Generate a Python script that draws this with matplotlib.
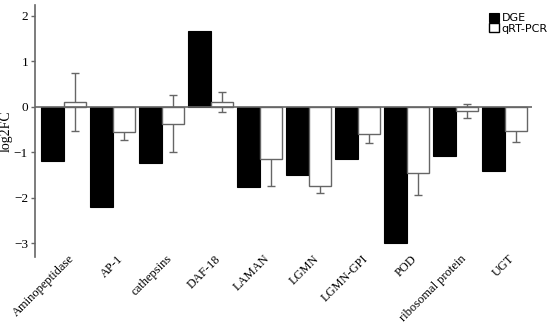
import numpy as np
import matplotlib.pyplot as plt

genes = ['Aminopeptidase', 'AP-1', 'cathepsins', 'DAF-18', 'LAMAN', 'LGMN',
         'LGMN-GPI', 'POD', 'ribosomal protein', 'UGT']
dge = [-1.19, -2.2, -1.24, 1.67, -1.76, -1.5, -1.15, -3.0, -1.07, -1.4]
qpcr = [0.11, -0.55, -0.37, 0.1, -1.15, -1.75, -0.6, -1.46, -0.09, -0.53]
qpcr_err = [0.63, 0.17, 0.62, 0.22, 0.58, 0.14, 0.2, 0.47, 0.15, 0.24]

x = np.arange(len(genes))
w = 0.46
gray = '#666666'

fig = plt.figure(figsize=(5.5, 3.27), dpi=100)
ax = fig.add_axes([0.0636, 0.214, 0.9034, 0.771])

ax.bar(x - w / 2, dge, w, color='black', edgecolor='black', linewidth=0.8, label='DGE', zorder=2)
ax.bar(x + w / 2, qpcr, w, color='white', edgecolor=gray, linewidth=1.0, label='qRT-PCR', zorder=2)
ax.errorbar(x + w / 2, qpcr, yerr=qpcr_err, fmt='none', ecolor=gray, elinewidth=1.0,
            capsize=3, capthick=1.0, zorder=1)
ax.axhline(0, color=gray, linewidth=1.2, zorder=3)

ax.set_xlim(-0.59, 9.55)
ax.set_ylim(-3.3, 2.24)
for s in ['top', 'right', 'bottom']:
    ax.spines[s].set_visible(False)
ax.spines['left'].set_color(gray)
ax.spines['left'].set_linewidth(1.2)

ax.set_yticks([-3, -2, -1, 0, 1, 2])
ax.tick_params(axis='y', colors=gray, length=3, width=1, labelcolor='black', pad=2)
ax.tick_params(axis='x', length=0, pad=-3)
for lab in ax.get_yticklabels():
    lab.set_fontfamily('Liberation Serif')
    lab.set_fontsize(9.5)

ax.set_xticks(x + 0.08)
ax.set_xticklabels(genes, rotation=45, ha='right', va='top', rotation_mode='anchor',
                   fontfamily='Liberation Serif', fontsize=9)

ax.set_ylabel('log2FC', fontfamily='Liberation Serif', fontsize=10, labelpad=1)

leg = ax.legend(loc='upper right', bbox_to_anchor=(1.045, 0.995), frameon=False,
                fontsize=8, handlelength=0.9, handleheight=0.9, handletextpad=0.2,
                labelspacing=0.0, borderpad=0.1)
leg.legend_handles[1].set_edgecolor('black')

fig.savefig('out.png', dpi=100)
